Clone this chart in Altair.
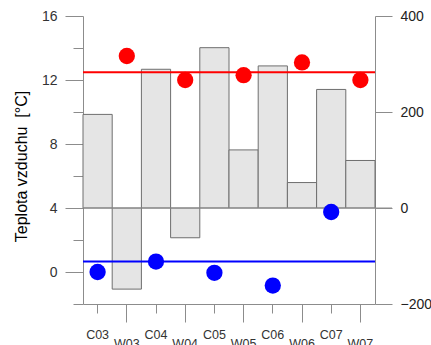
import altair as alt
import pandas as pd

# Stations in plotting order (paired cold / warm sites)
stations = ["C03", "W03", "C04", "W04", "C05", "W05", "C06", "W06", "C07", "W07"]
# Bar series, plotted against the right-hand axis
bar_values = [195, -169, 289, -62, 334, 121, 296, 53, 247, 99]

# Air temperature at the warm (W) and cold (C) sites, left-hand axis
warm_sites = ["W03", "W04", "W05", "W06", "W07"]
warm_temps = [13.5, 12.0, 12.3, 13.1, 12.0]
cold_sites = ["C03", "C04", "C05", "C06", "C07"]
cold_temps = [0.0, 0.65, -0.05, -0.85, 3.75]

# Mean temperature levels
warm_mean = 12.48
cold_mean = 0.65

left_ticks = [-2, 0, 2, 4, 6, 8, 10, 12, 14, 16]
right_ticks = [-200, 0, 200, 400]

FONT = "Liberation Sans"
AXIS_GREY = "#8c8c8c"
PLOT_W = 292
PLOT_H = 288

bars_df = pd.DataFrame({"station": stations, "value": bar_values})
warm_df = pd.DataFrame({"station": warm_sites, "temp": warm_temps})
cold_df = pd.DataFrame({"station": cold_sites, "temp": cold_temps})
zero_df = pd.DataFrame({"value": [0]})
warm_mean_df = pd.DataFrame({"temp": [warm_mean]})
cold_mean_df = pd.DataFrame({"temp": [cold_mean]})

x_scale = alt.Scale(domain=stations, paddingInner=0, paddingOuter=0)
x_axis = alt.Axis(
    title=None,
    labelAngle=0,
    labelFont=FONT,
    labelFontSize=12.5,
    labelColor="#333333",
    labelBaseline="top",
    labelPadding=15,
    tickSize={"condition": {"test": "test(/^W/, datum.value)", "value": 18}, "value": 9},
    tickColor=AXIS_GREY,
    domainColor=AXIS_GREY,
)

left_scale = alt.Scale(domain=[-2, 16], nice=False, zero=False)
left_axis = alt.Axis(
    orient="left",
    values=left_ticks,
    labelExpr="datum.value >= 0 && datum.value % 4 === 0 ? datum.label : ''",
    tickSize={"condition": {"test": "datum.value >= 0 && datum.value % 4 === 0", "value": 18}, "value": 10},
    labelPadding=8,
    labelFont=FONT,
    labelFontSize=14,
    labelColor="#333333",
    tickColor=AXIS_GREY,
    domainColor=AXIS_GREY,
    grid=False,
    title="Teplota vzduchu\u00a0 [°C]",
    titleFont=FONT,
    titleFontSize=16,
    titleFontWeight="normal",
    titleColor="#000000",
    titleAngle=-90,
    titleAlign="center",
    titleBaseline="alphabetic",
    titleX=-57,
    titleY=150,
)

right_scale = alt.Scale(domain=[-200, 400], nice=False, zero=False)
right_axis = alt.Axis(
    orient="right",
    values=right_ticks,
    tickSize=17,
    labelPadding=8,
    labelAlign="left",
    labelFont=FONT,
    labelFontSize=14,
    labelColor="#222222",
    tickColor=AXIS_GREY,
    domainColor=AXIS_GREY,
    grid=False,
    title=None,
)

bars = alt.Chart(bars_df).mark_bar(
    fill="#e5e5e5", stroke="#6e6e6e", strokeWidth=1
).encode(
    x=alt.X("station:N", sort=stations, scale=x_scale, axis=x_axis),
    y=alt.Y("value:Q", scale=right_scale, axis=right_axis),
    y2=alt.datum(0),
)

zero_line = alt.Chart(zero_df).mark_rule(color=AXIS_GREY, strokeWidth=1).encode(
    y=alt.Y("value:Q", scale=right_scale, axis=right_axis),
    x=alt.value(0),
    x2=alt.value(PLOT_W + 17),
)

right_group = alt.layer(bars, zero_line)

warm_line = alt.Chart(warm_mean_df).mark_rule(color="#ff0000", strokeWidth=2).encode(
    y=alt.Y("temp:Q", scale=left_scale, axis=left_axis),
    x=alt.value(0),
    x2=alt.value(PLOT_W),
)
cold_line = alt.Chart(cold_mean_df).mark_rule(color="#0000ff", strokeWidth=2).encode(
    y=alt.Y("temp:Q", scale=left_scale, axis=left_axis),
    x=alt.value(0),
    x2=alt.value(PLOT_W),
)
warm_points = alt.Chart(warm_df).mark_circle(color="#ff0000", opacity=1, size=265).encode(
    x=alt.X("station:N", sort=stations, scale=x_scale, axis=x_axis),
    y=alt.Y("temp:Q", scale=left_scale, axis=left_axis),
)
cold_points = alt.Chart(cold_df).mark_circle(color="#0000ff", opacity=1, size=265).encode(
    x=alt.X("station:N", sort=stations, scale=x_scale, axis=x_axis),
    y=alt.Y("temp:Q", scale=left_scale, axis=left_axis),
)

left_group = alt.layer(warm_line, cold_line, warm_points, cold_points)

chart = (
    alt.layer(right_group, left_group)
    .resolve_scale(y="independent")
    .properties(
        width=PLOT_W,
        height=PLOT_H,
        autosize=alt.AutoSizeParams(type="none"),
        padding={"left": 83, "top": 16, "right": 56, "bottom": 41},
        background="#ffffff",
    )
    .configure_view(stroke=None)
)

chart.save("out.html", embed_options={"renderer": "svg", "actions": False})
